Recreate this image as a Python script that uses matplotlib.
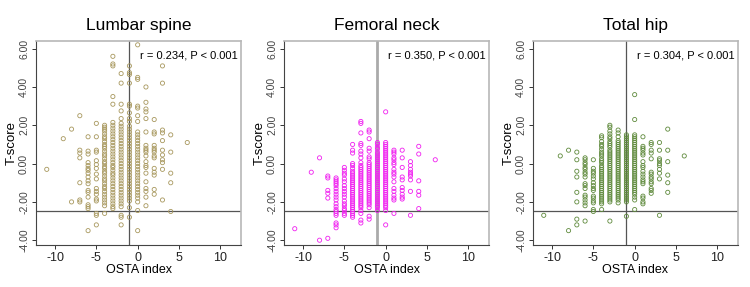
import matplotlib
matplotlib.use("Agg")
import matplotlib.pyplot as plt

plt.rcParams["font.family"] = ["Liberation Sans", "DejaVu Sans"]

# OSTA index columns and the T-scores
lumbar_cols = [-11, -9, -8, -7, -6, -5, -4, -3, -2, -1, 0, 1, 2, 3, 4, 6]
lumbar_t = [
    [-0.3],
    [1.3],
    [1.8, -2.0],
    [2.5, 0.7, 0.55, 0.3, -1.0, -1.9, -2.0],
    [1.4, 0.65, 0.5, 0.05, -0.1, -0.25, -0.35, -0.5, -0.7, -0.9, -1.05, -1.4, -1.5, -1.75, -2.15, -2.25, -2.35, -3.5],
    [2.1, 1.4, 0.7, 0.6, 0.15, -0.05, -0.25, -0.55, -0.8, -1.3, -1.45, -1.6, -1.85, -1.95, -2.6, -2.7, -3.2],
    [2.0, 1.9, 1.8, 1.7, 1.55, 1.4, 1.3, 1.15, 1.0, 0.9, 0.8, 0.65, 0.5, 0.4, 0.25, 0.1, 0.0, -0.15, -0.25,
     -0.4, -0.5, -0.65, -0.8, -0.9, -1.05, -1.2, -1.3, -1.45, -1.6, -1.75, -1.9, -2.05, -2.2, -2.6],
    [5.6, 5.2, 5.1, 3.5, 3.1, 2.15, 2.0, 1.85, 1.7, 1.55, 1.4, 1.25, 1.1, 0.95, 0.8, 0.65, 0.5, 0.35, 0.2,
     0.05, -0.1, -0.2, -0.35, -0.5, -0.6, -0.75, -0.9, -1.05, -1.2, -1.35, -1.5, -1.65, -1.8, -1.95, -2.1,
     -2.25, -2.35],
    [4.7, 4.2, 3.1, 2.75, 2.35, 2.1, 1.95, 1.8, 1.65, 1.5, 1.35, 1.2, 1.05, 0.9, 0.75, 0.6, 0.45, 0.3, 0.15,
     0.0, -0.15, -0.3, -0.45, -0.6, -0.75, -0.9, -1.05, -1.2, -1.35, -1.5, -1.65, -1.8, -1.95, -2.1, -2.25,
     -2.7, -2.8, -3.2],
    [5.1, 4.75, 4.65, 4.2, 3.1, 3.0, 2.65, 2.35, 2.2, 1.95, 1.8, 1.65, 1.5, 1.35, 1.2, 1.05, 0.9, 0.75, 0.6,
     0.45, 0.3, 0.15, 0.0, -0.15, -0.3, -0.45, -0.6, -0.75, -0.9, -1.05, -1.2, -1.35, -1.5, -1.65, -1.8,
     -1.95, -2.3, -2.8],
    [6.2, 4.5, 4.4, 3.0, 2.9, 2.5, 2.2, 1.65, 1.5, 1.35, 1.2, 1.05, 0.9, 0.75, 0.6, 0.45, 0.3, 0.15, 0.0,
     -0.15, -0.3, -0.45, -0.6, -0.75, -0.9, -1.05, -1.2, -1.35, -1.5, -1.65, -1.8, -2.0, -2.45, -3.5],
    [4.0, 3.2, 2.85, 2.7, 2.35, 1.65, 0.95, 0.8, 0.7, 0.6, 0.4, 0.1, -0.1, -0.2, -0.5, -0.95, -1.3, -1.45,
     -1.75, -2.2],
    [2.3, 1.65, 1.55, 0.95, 0.8, 0.7, 0.6, 0.4, 0.3, -0.25, -0.45, -0.6, -1.35, -1.6],
    [5.1, 4.2, 1.75, 1.6, 1.2, 0.7, 0.45, 0.2, 0.05, -0.3, -1.9],
    [1.5, 0.6, -0.5, -1.0, -2.5],
    [1.1],
]

femoral_cols = [-11, -9, -8, -7, -6, -5, -4, -3, -2, -1, 0, 1, 2, 3, 4, 6]
femoral_t = [
    [-3.4],
    [-0.45],
    [0.3, -4.0],
    [-0.65, -0.75, -1.4, -1.55, -1.8, -3.9],
    [-0.75, -0.85, -0.95, -1.05, -1.15, -1.3, -1.45, -1.6, -1.75, -1.9, -2.1, -2.25, -2.4, -2.5, -2.6, -2.7,
     -3.1, -3.2, -3.35],
    [-0.2, -0.35, -0.5, -0.6, -0.8, -0.95, -1.15, -1.3, -1.45, -1.6, -1.75, -1.95, -2.1, -2.2, -2.35, -2.45,
     -2.6, -2.7],
    [1.0, 0.7, 0.55, 0.0, -0.1, -0.25, -0.4, -0.5, -0.6, -0.7, -0.8, -0.9, -1.0, -1.1, -1.2, -1.3, -1.4,
     -1.5, -1.6, -1.7, -1.8, -1.9, -2.0, -2.1, -2.2, -2.3, -2.4, -2.5, -2.6, -2.7, -2.8],
    [2.2, 2.1, 1.6, 1.05, 0.95, 0.65, 0.5, 0.3, 0.05, -0.1, -0.2, -0.3, -0.4, -0.5, -0.6, -0.7, -0.8, -0.9,
     -1.0, -1.1, -1.2, -1.3, -1.4, -1.5, -1.6, -1.7, -1.8, -1.9, -2.0, -2.1, -2.2, -2.3, -2.45, -2.6, -2.95,
     -3.1],
    [1.75, 1.65, 1.3, 0.8, 0.65, 0.35, 0.25, 0.05, -0.05, -0.15, -0.25, -0.35, -0.45, -0.55, -0.65, -0.75,
     -0.85, -0.95, -1.05, -1.15, -1.25, -1.35, -1.45, -1.55, -1.65, -1.75, -1.85, -1.95, -2.05, -2.15, -2.3,
     -2.75, -2.9],
    [1.1, 1.0, 0.85, 0.75, 0.6, 0.5, 0.4, 0.3, 0.2, 0.1, 0.0, -0.1, -0.2, -0.3, -0.4, -0.5, -0.6, -0.7,
     -0.8, -0.9, -1.0, -1.1, -1.2, -1.3, -1.4, -1.5, -1.6, -1.7, -1.8, -1.9, -2.0, -2.1, -2.2, -2.3, -2.45],
    [2.7, 1.1, 1.0, 0.9, 0.8, 0.7, 0.6, 0.5, 0.4, 0.3, 0.2, 0.1, 0.0, -0.1, -0.2, -0.3, -0.4, -0.5, -0.6,
     -0.7, -0.8, -0.9, -1.0, -1.1, -1.2, -1.3, -1.4, -1.5, -1.6, -1.7, -1.8, -1.9, -2.0, -2.1, -2.2, -2.3,
     -2.45, -3.2],
    [0.7, 0.6, 0.5, 0.3, 0.2, 0.05, -0.05, -0.3, -0.45, -0.55, -0.7, -0.95, -1.3, -1.45, -1.65, -1.8, -1.9,
     -2.6],
    [0.7, 0.3, -0.2, -0.7, -0.85, -1.25, -1.4, -1.6, -1.75, -1.85],
    [0.1, -0.1, -0.3, -0.45, -0.55, -0.65, -0.85, -1.45, -2.7],
    [0.9, 0.5, -0.9, -1.45, -1.65, -2.35],
    [0.2],
]

hip_cols = [-11, -9, -8, -7, -6, -5, -4, -3, -2, -1, 0, 1, 2, 3, 4, 6]
hip_t = [
    [-2.7],
    [0.4],
    [0.7, -3.5],
    [0.6, 0.2, -0.4, -0.7, -1.5, -2.0, -2.9, -3.2],
    [0.3, 0.2, 0.05, -0.05, -0.2, -0.3, -0.45, -0.55, -0.7, -1.05, -1.15, -1.3, -1.65, -1.75, -1.9, -2.05,
     -2.2, -3.0],
    [0.2, -0.25, -0.4, -0.5, -0.65, -0.8, -1.0, -1.15, -1.3, -1.4, -1.7, -1.8, -1.95, -2.05, -2.4, -2.5],
    [1.45, 1.35, 1.15, 1.0, 0.9, 0.75, 0.6, 0.5, 0.4, 0.25, 0.15, 0.05, -0.1, -0.2, -0.3, -0.4, -0.5, -0.6,
     -0.7, -0.8, -0.9, -1.0, -1.1, -1.2, -1.3, -1.4, -1.5, -1.6, -1.7, -1.8, -1.9, -2.0, -2.1, -2.4],
    [2.0, 1.9, 1.7, 1.55, 1.4, 1.3, 1.15, 1.05, 0.95, 0.85, 0.7, 0.6, 0.5, 0.4, 0.3, 0.2, 0.1, 0.0, -0.1,
     -0.2, -0.3, -0.4, -0.5, -0.6, -0.7, -0.8, -0.9, -1.0, -1.1, -1.2, -1.3, -1.4, -1.5, -1.6, -1.7, -1.8,
     -1.9, -2.0, -3.0],
    [1.75, 1.6, 1.4, 1.2, 1.1, 1.0, 0.9, 0.8, 0.7, 0.6, 0.5, 0.4, 0.3, 0.2, 0.1, 0.0, -0.1, -0.2, -0.3,
     -0.4, -0.5, -0.6, -0.7, -0.8, -0.9, -1.0, -1.1, -1.2, -1.3, -1.4, -1.5, -1.6, -1.7, -1.8, -1.9, -2.05],
    [1.5, 1.4, 1.3, 1.2, 1.1, 1.0, 0.9, 0.8, 0.7, 0.6, 0.5, 0.4, 0.3, 0.2, 0.1, 0.0, -0.1, -0.2, -0.3,
     -0.4, -0.5, -0.6, -0.7, -0.8, -0.9, -1.0, -1.1, -1.2, -1.3, -1.4, -1.5, -1.6, -1.7, -1.8, -1.9, -2.0,
     -2.75],
    [3.6, 2.3, 1.5, 1.4, 1.3, 1.2, 1.1, 1.0, 0.9, 0.8, 0.7, 0.6, 0.5, 0.4, 0.3, 0.2, 0.1, 0.0, -0.1, -0.2,
     -0.3, -0.4, -0.5, -0.6, -0.7, -0.8, -0.9, -1.0, -1.1, -1.2, -1.3, -1.4, -1.5, -1.6, -1.75, -1.9, -2.4],
    [1.4, 0.9, 0.8, 0.7, 0.55, 0.45, 0.1, -0.1, -0.2, -0.4, -0.55, -0.7, -0.85, -0.95, -1.05, -1.7, -1.8,
     -2.0, -2.1],
    [1.1, 1.0, 0.7, 0.55, 0.25, -0.45, -0.55, -0.7, -0.8, -0.95, -1.05, -1.3, -1.4, -1.55],
    [1.1, 0.7, 0.25, 0.15, 0.0, -0.1, -0.3, -0.5, -0.8, -2.7],
    [1.8, 0.7, 0.1, -0.6, -1.0, -1.5],
    [0.4],
]

titles = ["Lumbar spine", "Femoral neck", "Total hip"]
stats = ["r = 0.234, P < 0.001", "r = 0.350, P < 0.001", "r = 0.304, P < 0.001"]
colors = ["#A8985E", "#F020F0", "#5F8A3C"]
vline_style = [("#555555", 0.9), ("#AAAAAA", 2.0), ("#555555", 0.9)]
yticks = [-4, -2, 0, 2, 4, 6]
ytick_labels = ["-4.00", "-2.00", "0.00", "2.00", "4.00", "6.00"]
xticks = [-10, -5, 0, 5, 10]

fig = plt.figure(figsize=(7.5, 2.87), dpi=100)
lefts = [36 / 750, 284 / 750, 533 / 750]

panels = [(lumbar_cols, lumbar_t), (femoral_cols, femoral_t), (hip_cols, hip_t)]
for i, (cols, tvals) in enumerate(panels):
    ax = fig.add_axes([lefts[i], 42 / 287, 205 / 750, 204 / 287])
    xs, ys = [], []
    for c, col in zip(cols, tvals):
        xs += [c] * len(col)
        ys += col
    ax.scatter(xs, ys, s=9, facecolors="none", edgecolors=colors[i], linewidths=0.6, zorder=2)
    vc, vw = vline_style[i]
    ax.axvline(-1, color=vc, lw=vw, zorder=1)
    ax.axhline(-2.5, color="#555555", lw=0.9, zorder=1)
    ax.set_xlim(-12.3, 12.5)
    ax.set_ylim(-4.25, 6.4)
    ax.set_xticks(xticks)
    ax.set_xticklabels([str(x) for x in xticks], fontsize=9)
    ax.set_yticks(yticks)
    ax.set_yticklabels(ytick_labels, fontsize=7.5, rotation=90, va="center")
    ax.tick_params(length=3, width=0.7, colors="#333333", pad=2)
    ax.tick_params(axis="x", labelcolor="#222222")
    ax.tick_params(axis="y", labelcolor="#444444")
    for side in ["left", "bottom"]:
        ax.spines[side].set_color("#444444")
        ax.spines[side].set_linewidth(0.8)
    for side in ["top", "right"]:
        ax.spines[side].set_color("#B8B8B8")
        ax.spines[side].set_linewidth(1.2)
    ax.set_title(titles[i], fontsize=12.5, pad=8)
    ax.set_xlabel("OSTA index", fontsize=9, labelpad=0)
    ax.set_ylabel("T-score", fontsize=9.5, labelpad=1)
    ax.text(0.985, 0.955, stats[i], transform=ax.transAxes, ha="right", va="top", fontsize=8)

fig.savefig("out.png", dpi=100)
